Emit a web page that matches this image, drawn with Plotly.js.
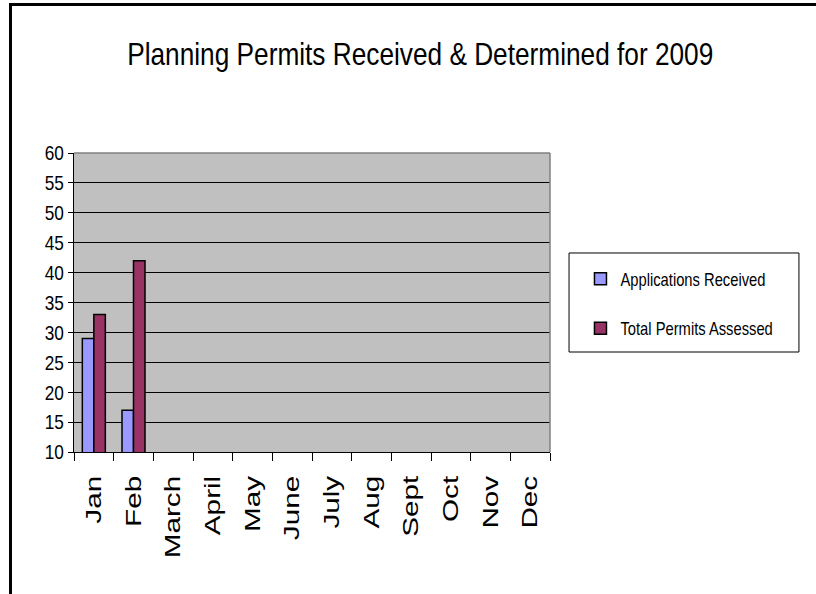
<!DOCTYPE html>
<html>
<head>
<meta charset="utf-8">
<script src="https://cdn.plot.ly/plotly-3.0.1.min.js"></script>
<style>
  html, body { margin: 0; padding: 0; background: #fff; }
  #chart { width: 816px; height: 594px; }
  #frame { position: absolute; left: 9px; top: 3px; width: 807px; height: 591px;
           border-left: 3px solid #000; border-top: 3px solid #000; pointer-events: none; box-sizing: border-box; }
</style>
</head>
<body>
<div id="chart"></div>
<div id="frame"></div>
<script>
const months = ["Jan", "Feb", "March", "April", "May", "June", "July", "Aug", "Sept", "Oct", "Nov", "Dec"];
const applicationsReceived = [29, 17, null, null, null, null, null, null, null, null, null, null];
const totalPermitsAssessed = [33, 42, null, null, null, null, null, null, null, null, null, null];
const yTicks = [10, 15, 20, 25, 30, 35, 40, 45, 50, 55, 60];
const seriesNames = ["Applications Received", "Total Permits Assessed"];

const FONT = "'Liberation Sans', Arial, sans-serif";

const traces = [
  {
    type: "bar", x: months, y: applicationsReceived, name: seriesNames[0], legendgroup: "a",
    marker: { color: "#9999FF", line: { color: "#000000", width: 1.5 } }
  },
  {
    type: "bar", x: months, y: totalPermitsAssessed, name: seriesNames[1], legendgroup: "b",
    marker: { color: "#993366", line: { color: "#000000", width: 1.5 } }
  }
];

const layout = {
  width: 816, height: 594,
  margin: { l: 74, r: 266, t: 153, b: 142, pad: 0, autoexpand: false },
  paper_bgcolor: "#ffffff",
  plot_bgcolor: "#C0C0C0",
  barmode: "group",
  bargap: 0.42,
  bargroupgap: 0,
  showlegend: true,
  title: {
    text: "Planning Permits Received & Determined for 2009",
    font: { family: FONT, size: 32, color: "#000" },
    xref: "container", x: 0.515, xanchor: "center",
    yref: "container", y: 0.91, yanchor: "middle"
  },
  xaxis: {
    type: "category", categoryorder: "array", categoryarray: months,
    tickson: "boundaries", ticks: "outside", ticklen: 8, tickcolor: "#000", tickwidth: 1,
    showline: true, linecolor: "#000", linewidth: 1, showgrid: false,
    tickangle: -90, tickfont: { family: FONT, size: 22, color: "#000" },
    ticklabelstandoff: 14, fixedrange: true, automargin: false
  },
  yaxis: {
    range: [10, 60], tickmode: "array", tickvals: yTicks, ticktext: yTicks.map(String),
    ticks: "outside", ticklen: 5, tickcolor: "#000", tickwidth: 1,
    showline: true, linecolor: "#000", linewidth: 1,
    showgrid: true, gridcolor: "#000", gridwidth: 1, zeroline: false,
    tickfont: { family: FONT, size: 21, color: "#000" }, fixedrange: true, automargin: false
  },
  legend: {
    x: 1.064, xanchor: "left", y: 0.64, yanchor: "top",
    bgcolor: "rgba(0,0,0,0)", borderwidth: 0,
    font: { family: FONT, size: 18, color: "#000" },
    tracegroupgap: 23, traceorder: "grouped"
  },
  shapes: [
    { type: "line", xref: "paper", yref: "paper", x0: 0, x1: 1, y0: 1, y1: 1, line: { color: "#808080", width: 1.5 }, layer: "above" },
    { type: "line", xref: "paper", yref: "paper", x0: 1, x1: 1, y0: 0, y1: 1, line: { color: "#808080", width: 1.5 }, layer: "above" },
    { type: "rect", xref: "paper", yref: "paper", x0: 1.04, x1: 1.523, y0: 0.3344, y1: 0.6656, line: { color: "#000", width: 1 }, fillcolor: "rgba(0,0,0,0)" }
  ]
};

// Stretch/condense text along its own direction, keeping its anchor point fixed
function scaleText(root, selector, sx) {
  root.querySelectorAll(selector).forEach(function (t) {
    const x = parseFloat(t.getAttribute("x")) || 0;
    const y = parseFloat(t.getAttribute("y")) || 0;
    const prev = t.getAttribute("transform") || "";
    t.setAttribute("transform", prev + " translate(" + x + "," + y + ") scale(" + sx + ",1) translate(" + (-x) + "," + (-y) + ")");
  });
}

Plotly.newPlot("chart", traces, layout, { displayModeBar: false, staticPlot: true }).then(function (gd) {
  scaleText(gd, ".gtitle", 0.82);
  scaleText(gd, ".ytick text", 0.82);
  scaleText(gd, ".legendtext", 0.82);
  scaleText(gd, ".xtick text", 1.35);
});
</script>
</body>
</html>
